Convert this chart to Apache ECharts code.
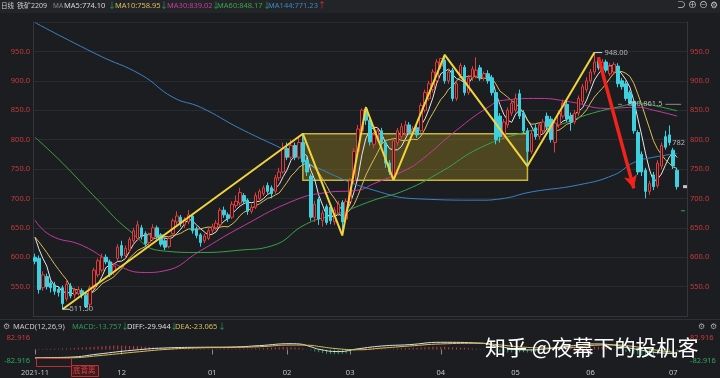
<!DOCTYPE html>
<html><head><meta charset="utf-8">
<script src="https://cdn.jsdelivr.net/npm/echarts@6/dist/echarts.min.js"></script>
<style>html,body{margin:0;padding:0;background:#1c1d21}#c{width:720px;height:378px}</style>
</head><body><div id="c"></div>
<script>
// ---- data ----
const monthStarts = [0, 22, 45, 64, 80, 103, 122, 141, 162];
const monthLabels = ['2021-11', '12', '01', '02', '03', '04', '05', '06', '07'];
const slotCount = 166; // 164 trading days + 2 empty slots at the right edge

const opens = [
  600,598,548,567,556,553,545,548,529,551,536,538,543,535,520,548,570,578,600,592,575,598,
  620,603,612,628,632,650,640,625,633,650,638,628,618,640,660,668,655,660,670,648,638,628,632,
  645,650,655,680,672,668,688,692,705,697,678,685,700,708,722,718,712,735,745,
  785,770,790,770,795,765,738,668,698,662,686,685,660,675,693,665,
  695,730,780,815,852,833,792,800,815,795,760,738,795,805,810,825,812,820,815,850,870,885,900,
  925,935,900,918,870,910,923,880,905,908,922,905,912,905,880,840,805,825,845,
  850,878,845,815,780,820,805,815,840,835,795,825,840,860,840,830,845,865,885,
  900,915,935,920,932,912,915,925,900,895,880,865,812,775,748,712,740,722,755,805,808,
  782,748];
const closes = [
  593,545,570,550,548,542,540,521,554,534,544,545,536,516,548,578,594,600,592,570,585,617,
  603,615,630,645,655,635,623,638,650,635,622,617,632,662,670,657,664,672,645,637,625,636,645,
  652,658,680,672,666,690,695,710,695,678,685,705,712,718,712,708,735,745,785,
  770,790,770,795,762,745,668,690,665,675,659,662,680,690,660,695,
  730,780,818,850,833,796,808,815,795,760,745,798,815,822,825,812,818,808,858,880,895,915,932,
  938,900,915,870,895,926,880,905,920,918,905,912,900,880,800,805,830,850,862,
  870,840,815,780,810,805,825,830,822,800,828,845,862,835,830,845,870,890,900,
  915,932,922,932,918,925,928,895,890,870,862,815,745,745,712,725,720,760,790,787,795,
  755,720];
const lows = [
  588,538,543,545,540,536,533,511.5,525,530,530,535,530,514,515,545,566,574,588,566,570,594,
  598,598,608,624,628,630,618,620,628,630,618,612,615,636,655,652,650,656,640,632,618,624,629,
  640,646,652,667,660,665,684,688,690,672,674,682,697,704,708,700,708,730,742,
  765,766,765,766,756,738,662,660,655,652,655,656,655,670,637,660,
  690,726,775,810,825,790,786,796,790,752,740,731,790,800,806,808,807,803,812,846,866,880,896,
  920,895,895,865,866,905,875,876,900,904,900,900,895,875,792,795,800,820,840,
  846,835,810,755,776,800,800,810,818,795,778,820,836,830,815,826,840,860,880,
  895,910,918,915,914,908,910,889,885,866,860,810,740,738,700,706,714,718,750,783,790,
  750,715];
const highs = [
  606,603,576,572,560,558,550,552,560,556,548,550,547,540,552,582,598,606,605,596,590,622,
  628,620,634,650,662,655,644,642,656,654,641,632,636,666,678,672,668,680,674,652,641,640,650,
  657,663,684,686,676,695,705,718,709,700,690,710,716,722,727,722,740,752,795,
  795,800,795,805,810,770,742,696,702,680,690,690,685,696,697,700,
  735,785,825,853,856,838,813,822,820,798,765,802,820,828,832,830,823,825,862,885,900,920,937,
  938,945,920,922,900,930,927,910,925,940,927,916,918,910,884,845,835,855,868,
  878,885,850,820,815,826,830,835,846,840,832,850,868,866,846,850,875,895,906,
  920,948,940,937,936,930,932,930,905,900,884,868,816,780,752,730,745,765,795,815,824,
  786,752];

// first MA values that need history before the window
const ma5Head = [634, 614, 598, 585];
const ma10Head = [634, 626, 617, 608, 598, 588, 579, 570, 562];

// long moving averages read at sample points: [slot, value]
const ma30Pts = [[0,663],[4,637],[12,620],[21,586],[28,574],[33,577],[42,611],[52,650],[66,697],[74,710],[82,714],[86,725],[94,748],[98,765],[107,816],[115,855],[119,867],[128,870],[136,864],[145,853],[153,855],[157,850],[163,840]];
const ma60Pts = [[0,804],[7,760],[16,697],[24,645],[32,611],[42,608],[52,612],[60,619],[69,657],[77,674],[86,697],[94,714],[103,745],[113,786],[124,812],[133,825],[140,842],[149,857],[153,862],[157,858],[163,849]];
const ma144Pts = [[0,999],[16,944],[27,910],[35,872],[42,855],[52,819],[65,777],[73,748],[86,714],[98,699],[113,697],[118,699],[126,711],[138,723],[147,740],[152,761],[157,770],[163,776]];

// MACD panel
const diffPts = [[0,-60],[9,-55],[16,-33],[25,-5],[34,12],[42,16],[50,18],[57,28],[65,42],[67,40],[70,20],[72,2],[77,-15],[82,5],[88,25],[95,35],[103,52],[113,46],[118,20],[125,-3],[133,15],[142,40],[146,35],[151,10],[159,-25],[163,-30]];
const deaPts = [[0,-62],[9,-60],[16,-45],[25,-20],[34,2],[42,12],[50,15],[57,20],[65,32],[70,30],[72,22],[77,5],[82,-2],[88,10],[95,25],[103,40],[113,45],[118,33],[125,15],[133,10],[142,30],[146,33],[151,25],[159,-10],[163,-23]];
const macdHist = [
  4,4,4,5,5,6,6,7,7,8, 10,12,14,16,18,20,
  22,24,26,27,28,28,28,27,26,25,24,22,20,18,16,
  14,12,10,9,8,7,6,5,5,4,4,4,4,4,
  5,6,6,7,7,6,6,5,5,5,6,7,8,9,10,12,14,16,18,
  18,17,15,12,8,2,-6,-14,-20,-26,-30,-33,-35,-35,-33,-28,
  -20,-10,0,8,14,16,15,12,8,4,2,4,7,9,10,11,12,12,14,16,18,19,20,
  20,19,17,15,14,13,12,10,8,6,4,2,0,-4,-10,-16,-20,-22,-22,
  -22,-20,-20,-22,-20,-16,-12,-8,-4,-2,0,2,4,6,8,10,12,14,16,
  18,20,20,18,14,8,2,-4,-10,-16,-24,-30,-36,-40,-42,-40,-38,-34,-30,-26,-22,-18,-14];
const macdRange = 82.916;

// drawn annotations (data coordinates)
const zigzagPts = [[7,511.5],[68,810],[78,637],[84,855],[91,731],[104,944],[125,755],[142,948]];
const boxCorners = [[68,810],[125,731]];
const arrowPts = [[143,940],[152,717]];
const priceNotes = [[7,511.5,'511.50'],[142,948,'948.00'],[149,861,'860-861.5'],[161,794,'782']];
const lastPrice = 720;
const settleLevel = 679;
const levelLine = 860;

// ---- build ----
const categories = Array.from({length: slotCount}, (_, i) => 'k' + i);
const candles = opens.map((o, i) => [o, closes[i], lows[i], highs[i]]);
function movingAvg(n, head) {
  return closes.map((c, i) => {
    if (i < n - 1) return head[i];
    let s = 0; for (let k = i - n + 1; k <= i; k++) s += closes[k];
    return +(s / n).toFixed(2);
  });
}
const ma5 = movingAvg(5, ma5Head);
const ma10 = movingAvg(10, ma10Head);
const isMonth = i => monthStarts.indexOf(i) >= 0;

const F = '"Noto Sans", "Noto Sans CJK SC", sans-serif';
const chart = echarts.init(document.getElementById('c'));

function txt(x, y, text, color, size, extra) {
  return Object.assign({type: 'text', z: 100, style: {x: x, y: y, text: text, fill: color, fontSize: size || 7.5, fontFamily: F, verticalAlign: 'middle'}}, extra || {});
}
const lineFmt = (color, width) => ({type: 'line', showSymbol: false, symbol: 'none', lineStyle: {color: color, width: width || 1}, silent: true});

const graphics = [
  {type: 'rect', z: -10, shape: {x: 0, y: 0, width: 720, height: 13}, style: {fill: '#232428'}},
  {type: 'line', z: -10, shape: {x1: 0, y1: 319.5, x2: 720, y2: 319.5}, style: {stroke: '#2f3035', lineWidth: 1}},
  txt(1, 6, '日线', '#cfcfcf', 6.5),
  txt(17, 6, '铁矿2209', '#cfcfcf', 7),
  txt(53, 6, 'MA', '#8a8a8a', 6.5),
  txt(64, 6, 'MA5:774.10', '#d8d8d8'),
  txt(108, 6, '↓', '#27a35a', 8),
  txt(115, 6, 'MA10:758.95', '#d6bf58'),
  txt(160, 6, '↓', '#27a35a', 8),
  txt(167, 6, 'MA30:839.02', '#c23fa3'),
  txt(212, 6, '↓', '#27a35a', 8),
  txt(217, 6, 'MA60:848.17', '#3aa54c'),
  txt(263, 6, '↓', '#27a35a', 8),
  txt(268, 6, 'MA144:771.23', '#3b86cc'),
  txt(318, 6, '↑', '#e03030', 8),
  txt(677, 5, '⊃', '#c8c8c8', 9),
  txt(688, 5, '⊕', '#c8c8c8', 9),
  txt(699, 5, '⊖', '#c8c8c8', 9),
  txt(710, 5, '⚙', '#c8c8c8', 9),
  txt(3, 327, '⚙', '#a8a8a8', 8),
  txt(13, 327, 'MACD(12,26,9)', '#c8c8c8'),
  txt(72, 327, 'MACD:-13.757', '#2f9a5a'),
  txt(121, 327, '↓', '#27a35a', 8),
  txt(127, 327, 'DIFF:-29.944', '#dcdcdc'),
  txt(170, 327, '↓', '#27a35a', 8),
  txt(175, 327, 'DEA:-23.065', '#d6bf58'),
  txt(218, 327, '↓', '#27a35a', 8),
  txt(698, 327, '⚙', '#a8a8a8', 8),
  txt(710, 327, '⚙', '#a8a8a8', 8),
  {type: 'rect', z: 90, shape: {x: 36.5, y: 358.5, width: 35, height: 8}, style: {fill: 'none', stroke: '#b83030', lineWidth: 1}},
  {type: 'rect', z: 90, shape: {x: 71.5, y: 365.5, width: 27, height: 11}, style: {fill: '#3a1c1e', stroke: '#c03030', lineWidth: 1}},
  txt(73, 371, '底背离', '#e04040', 7.5),
  {type: 'text', z: 120, style: {x: 485, y: 347, text: '知乎 @夜幕下的投机客', fill: '#ffffff', fontSize: 21, fontFamily: '"Noto Sans CJK SC", sans-serif', verticalAlign: 'middle', shadowColor: 'rgba(0,0,0,0.7)', shadowBlur: 3}}
];

const yLabel = {color: '#c93a3a', fontSize: 7.5, fontFamily: F, formatter: v => v.toFixed(1), showMinLabel: false, showMaxLabel: false};
const macdLabel = {fontSize: 7.5, fontFamily: F, margin: 3,
  formatter: v => v > 1 ? '{r|' + macdRange.toFixed(3) + '}' : (v < -1 ? '{g|-' + macdRange.toFixed(3) + '}' : ''),
  rich: {r: {color: '#d03a3a', fontSize: 7.5, fontFamily: F}, g: {color: '#2fa85a', fontSize: 7.5, fontFamily: F}}};

const series = [
  {type: 'candlestick', name: 'k', xAxisIndex: 0, yAxisIndex: 0, data: candles, barWidth: 3, z: 2,
   itemStyle: {color: '#1c1d21', color0: '#3fd0e0', borderColor: '#e03c3c', borderColor0: '#3fd0e0', borderWidth: 1}},
  Object.assign(lineFmt('#e6e6e6'), {data: ma5, z: 2}),
  Object.assign(lineFmt('#d6bf58'), {data: ma10, z: 2}),
  Object.assign(lineFmt('#c23a9e'), {data: ma30Pts, smooth: true, z: 2}),
  Object.assign(lineFmt('#36a447'), {data: ma60Pts, smooth: true, z: 2}),
  Object.assign(lineFmt('#3a82c4'), {data: ma144Pts, smooth: true, z: 2}),
  Object.assign(lineFmt('rgba(0,0,0,0)', 0), {data: boxCorners, z: 3,
    markArea: {silent: true, itemStyle: {color: 'rgba(165,145,30,0.36)', borderColor: '#c9b43c', borderWidth: 1.5},
      data: [[{coord: boxCorners[0]}, {coord: boxCorners[1]}]]}}),
  Object.assign(lineFmt('#f2d43a', 2), {data: zigzagPts, z: 4}),
  Object.assign(lineFmt('rgba(0,0,0,0)', 0), {data: arrowPts, z: 5,
    markLine: {silent: true, symbol: ['none', 'arrow'], symbolSize: [10, 13], label: {show: false},
      lineStyle: {color: '#f2231a', width: 3.5, type: 'solid'},
      data: [[{coord: arrowPts[0]}, {coord: arrowPts[1]}]]}}),
  Object.assign(lineFmt('#d8d8d8'), {data: [[7, 511.5], [8.5, 511.5]], z: 5}),
  Object.assign(lineFmt('#d8d8d8'), {data: [[142, 948], [144, 948]], z: 5}),
  Object.assign(lineFmt('#8c8c8c'), {data: [[147.6, levelLine], [149, levelLine]], z: 5}),
  Object.assign(lineFmt('#8c8c8c'), {data: [[159.6, levelLine], [164.4, levelLine]], z: 5}),
  Object.assign(lineFmt('#2fa84f'), {data: [[164, settleLevel], [165.4, settleLevel]], z: 5}),
  {type: 'scatter', z: 6, silent: true, symbol: 'rect', symbolSize: [4, 3], itemStyle: {color: '#f0f0f0'}, data: [[165, lastPrice]]},
  {type: 'scatter', z: 6, silent: true, symbolSize: 0,
   data: priceNotes.map((p, k) => ({value: [p[0], p[1]], label: {show: true, formatter: p[2], position: 'right',
     distance: [7, 10, 6, 3][k], color: '#d8d8d8', fontSize: 7.5, fontFamily: F}}))},
  {type: 'bar', xAxisIndex: 1, yAxisIndex: 2, barWidth: 1, silent: true,
   data: macdHist.map(v => ({value: v, itemStyle: {color: v >= 0 ? '#c8403e' : '#2a9d5c'}}))},
  Object.assign(lineFmt('#e0e0e0'), {xAxisIndex: 1, yAxisIndex: 2, data: diffPts, smooth: true}),
  Object.assign(lineFmt('#d6bf58'), {xAxisIndex: 1, yAxisIndex: 2, data: deaPts, smooth: true})
];

chart.setOption({
  backgroundColor: '#1c1d21',
  animation: false,
  grid: [
    {left: 33, right: 33, top: 22, height: 294},
    {left: 33, right: 33, top: 338, height: 23}
  ],
  xAxis: [
    {gridIndex: 0, type: 'category', data: categories, boundaryGap: true,
     axisLine: {show: true, lineStyle: {color: '#35363b'}}, axisTick: {show: false}, axisLabel: {show: false}, splitLine: {show: false}},
    {gridIndex: 1, type: 'category', data: categories, boundaryGap: true,
     axisLine: {show: false},
     axisTick: {show: true, alignWithLabel: true, interval: i => isMonth(i), length: 5, lineStyle: {color: '#8a8a8a'}},
     axisLabel: {interval: i => isMonth(i), formatter: (v, i) => monthLabels[monthStarts.indexOf(i)] || '', color: '#c4c4c4', fontSize: 7.5, fontFamily: F, margin: 8},
     splitLine: {show: false}}
  ],
  yAxis: [
    {gridIndex: 0, position: 'left', min: 500, max: 1000, interval: 50, axisLine: {show: true, lineStyle: {color: '#35363b'}},
     axisTick: {show: false}, axisLabel: Object.assign({margin: 3}, yLabel), splitLine: {lineStyle: {color: '#2a2b30'}}},
    {gridIndex: 0, position: 'right', min: 500, max: 1000, interval: 50, axisLine: {show: true, lineStyle: {color: '#35363b'}},
     axisTick: {show: false}, axisLabel: Object.assign({margin: 3}, yLabel), splitLine: {show: false}},
    {gridIndex: 1, position: 'left', min: -macdRange, max: macdRange, interval: macdRange, axisLine: {show: false},
     axisTick: {show: false}, axisLabel: macdLabel, splitLine: {show: false}},
    {gridIndex: 1, position: 'right', min: -macdRange, max: macdRange, interval: macdRange, axisLine: {show: false},
     axisTick: {show: false}, axisLabel: macdLabel, splitLine: {show: false}}
  ],
  graphic: graphics,
  series: series
});
</script></body></html>
